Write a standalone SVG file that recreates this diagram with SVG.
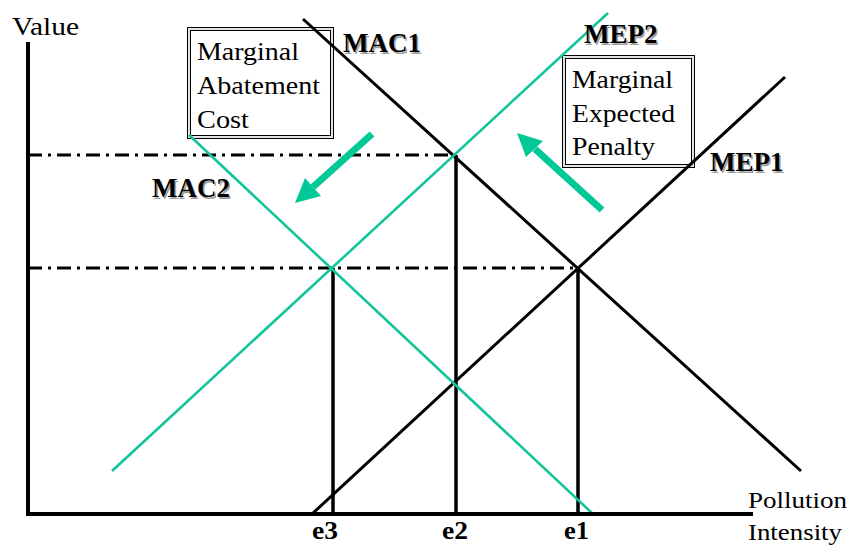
<svg xmlns="http://www.w3.org/2000/svg" width="850" height="546" viewBox="0 0 850 546">
<style>
.t{font-family:"Liberation Serif","Times New Roman","DejaVu Serif",serif;font-size:26px;fill:#000}
.b{font-family:"Liberation Serif","Times New Roman","DejaVu Serif",serif;font-size:27px;font-weight:bold;fill:#000}
.sh{fill:#a0a0a0}
.e{font-family:"Liberation Serif","Times New Roman","DejaVu Serif",serif;font-size:26px;font-weight:bold;fill:#000}
.ax2{font-size:24px}
.blk{stroke:#000;stroke-width:3;fill:none}
.tea{stroke:#14c49a;stroke-width:2.6;fill:none}
.dd{stroke:#000;stroke-width:3;stroke-dasharray:14 6 3 6;fill:none}
.vl{stroke:#000;stroke-width:3.5;fill:none}
.ax{stroke:#000;stroke-width:4;fill:none}
.bo{fill:#fff;stroke:#000;stroke-width:1}
.bg{fill:none;stroke:#c8c8c8;stroke-width:1}
.bi{fill:none;stroke:#000;stroke-width:1}
.arr{stroke:#00c896;stroke-width:7;fill:none}
.ah{fill:#00c896}
</style>
<rect width="850" height="546" fill="#fff"/>
<g id="box-mac">
<rect class="bo" x="187.5" y="27.5" width="146" height="111"/>
<rect class="bg" x="189" y="29" width="143" height="108"/>
<rect class="bi" x="190.5" y="30.5" width="140" height="105"/>
<text class="t" x="197" y="60" textLength="102" lengthAdjust="spacingAndGlyphs">Marginal</text>
<text class="t" x="197" y="94" textLength="123" lengthAdjust="spacingAndGlyphs">Abatement</text>
<text class="t" x="197" y="128" textLength="52" lengthAdjust="spacingAndGlyphs">Cost</text>
</g>
<g id="box-mep">
<rect class="bo" x="562.5" y="55.5" width="132" height="112"/>
<rect class="bg" x="564" y="57" width="129" height="109"/>
<rect class="bi" x="565.5" y="58.5" width="126" height="106"/>
<text class="t" x="572" y="88" textLength="101" lengthAdjust="spacingAndGlyphs">Marginal</text>
<text class="t" x="572" y="122" textLength="103" lengthAdjust="spacingAndGlyphs">Expected</text>
<text class="t" x="572" y="155" textLength="83" lengthAdjust="spacingAndGlyphs">Penalty</text>
</g>
<g id="connectors">
<line class="dd" x1="28" y1="155" x2="455" y2="155"/>
<line class="dd" x1="28" y1="268" x2="577" y2="268"/>
<line class="vl" x1="333" y1="268" x2="333" y2="514"/>
<line class="vl" x1="456" y1="155" x2="456" y2="514"/>
<line class="vl" x1="578" y1="268" x2="578" y2="514"/>
<line id="mac1" class="blk" x1="303" y1="19" x2="801" y2="471"/>
<line id="mep1" class="blk" x1="312" y1="514" x2="785" y2="77"/>
<line id="mep2" class="tea" x1="112" y1="471" x2="608" y2="13"/>
<line id="mac2" class="tea" x1="189" y1="135" x2="593" y2="514"/>
<line class="ax" x1="28" y1="42" x2="28" y2="516"/>
<line class="ax" x1="26" y1="514" x2="753" y2="514"/>
<g id="arrow-left">
<line class="arr" x1="372" y1="134" x2="313" y2="187"/>
<polygon class="ah" points="295,203 305,178 321,196"/>
</g>
<g id="arrow-right">
<line class="arr" x1="602" y1="210" x2="535" y2="149"/>
<polygon class="ah" points="517,133 526,157 543,141"/>
</g>
</g>
<g id="labels">
<text class="t" x="12" y="35" textLength="67" lengthAdjust="spacingAndGlyphs">Value</text>
<text class="b sh" x="344.5" y="53.5">MAC1</text>
<text class="b" x="343" y="52">MAC1</text>
<text class="b sh" x="585.5" y="44.5">MEP2</text>
<text class="b" x="584" y="43">MEP2</text>
<text class="b sh" x="711.5" y="172.5">MEP1</text>
<text class="b" x="710" y="171">MEP1</text>
<text class="b sh" x="153.5" y="198.5">MAC2</text>
<text class="b" x="152" y="197">MAC2</text>
<text class="e" x="312" y="539" textLength="26" lengthAdjust="spacingAndGlyphs">e3</text>
<text class="e" x="442" y="539" textLength="26" lengthAdjust="spacingAndGlyphs">e2</text>
<text class="e" x="564" y="539" textLength="25" lengthAdjust="spacingAndGlyphs">e1</text>
<text class="t ax2" x="748" y="508" textLength="99" lengthAdjust="spacingAndGlyphs">Pollution</text>
<text class="t ax2" x="748" y="540" textLength="94" lengthAdjust="spacingAndGlyphs">Intensity</text>
</g>
</svg>
